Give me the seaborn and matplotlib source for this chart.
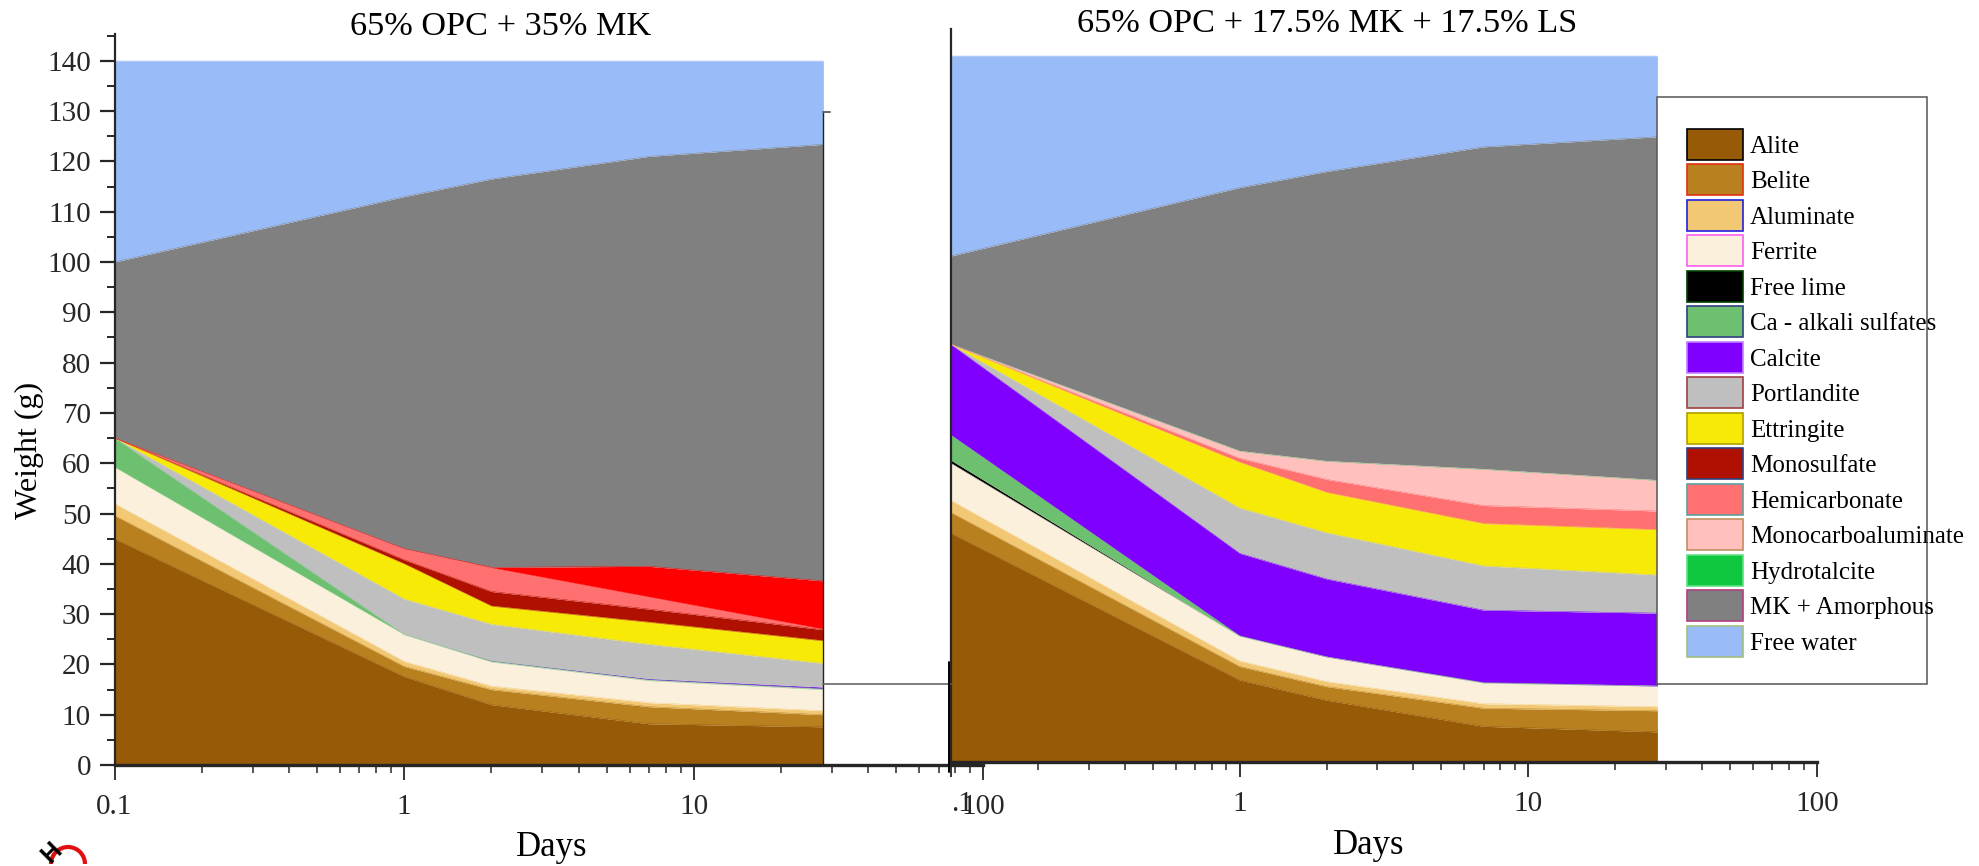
import numpy as np
import matplotlib
matplotlib.use("Agg")
import matplotlib.pyplot as plt
from matplotlib.lines import Line2D
from matplotlib.patches import Patch, Rectangle, Arc
from matplotlib.ticker import FixedLocator, NullFormatter
import seaborn as sns

W, H = 1979, 866

days = [0.1, 1, 2, 7, 28]

# top edge of every band (cumulative weight, g)
left_alite = [45, 17.6, 12, 8.2, 7.6]
left_belite = [49.6, 19.6, 15, 11.6, 10]
left_aluminate = [52, 20.6, 15.7, 12.4, 10.8]
left_ferrite = [59.2, 25.9, 20.5, 16.8, 15]
left_freelime = [59.2, 25.9, 20.5, 16.8, 15]
left_sulfates = [65, 25.95, 20.7, 17, 15.2]
left_calcite = [65, 25.95, 20.8, 17.2, 15.5]
left_portlandite = [65, 33, 28, 24, 20.2]
left_ettringite = [65, 40, 31.6, 28.4, 24.7]
left_monosulfate = [65, 40.8, 34.5, 31, 26.9]
left_hemicarb = [65, 43, 39.2, 33.4, 27]
left_monocarbo = [65, 43, 39.3, 39.5, 36.6]
left_hydrotalcite = [65, 43, 39.3, 39.5, 36.6]
left_mk = [100, 113, 116.5, 121, 123.4]
left_water = [140, 140, 140, 140, 140]

right_alite = [45.5, 16.3, 12.3, 7.1, 6]
right_belite = [49.6, 19.0, 15, 10.7, 10.2]
right_aluminate = [52, 20.1, 16, 11.6, 11]
right_ferrite = [59.4, 25, 20.9, 15.7, 15.1]
right_freelime = [60, 25, 20.9, 15.7, 15.1]
right_sulfates = [65, 25.1, 20.9, 15.8, 15.1]
right_calcite = [83, 41.5, 36.4, 30.2, 29.6]
right_portlandite = [83, 50.5, 45.6, 39, 37.2]
right_ettringite = [83, 59.6, 53.6, 47.4, 46.2]
right_monosulfate = [83, 59.6, 53.6, 47.4, 46.2]
right_hemicarb = [83, 60.4, 56.2, 51, 49.9]
right_monocarbo = [83, 61.8, 59.8, 58.2, 56]
right_hydrotalcite = [83.1, 61.9, 59.9, 58.3, 56.1]
right_mk = [100.6, 114.2, 117.4, 122.3, 124.3]
right_water = [140.4, 140.4, 140.4, 140.4, 140.4]

names = ["Alite", "Belite", "Aluminate", "Ferrite", "Free lime", "Ca - alkali sulfates",
         "Calcite", "Portlandite", "Ettringite", "Monosulfate", "Hemicarbonate",
         "Monocarboaluminate", "Hydrotalcite", "MK + Amorphous", "Free water"]
colors = ["#975A06", "#B8801F", "#F2C874", "#FBF0DC", "#000000", "#6CC070",
          "#8000FF", "#BFBFBF", "#F8EA07", "#B01000", "#FF7070",
          "#FFC0BE", "#10C840", "#808080", "#99BBF7"]
edges = ["#000000", "#E03010", "#2020E0", "#FF60F0", "#004000", "#304080",
         "#C080FF", "#A04040", "#B0A000", "#304080", "#60A0A0",
         "#C09060", "#60E080", "#B04080", "#A0C080"]
# the left panel shows its monocarboaluminate band in pure red
left_colors = colors[:11] + ["#FF0000"] + colors[12:]

left_tops = [left_alite, left_belite, left_aluminate, left_ferrite, left_freelime,
             left_sulfates, left_calcite, left_portlandite, left_ettringite,
             left_monosulfate, left_hemicarb, left_monocarbo, left_hydrotalcite,
             left_mk, left_water]
right_tops = [right_alite, right_belite, right_aluminate, right_ferrite, right_freelime,
              right_sulfates, right_calcite, right_portlandite, right_ettringite,
              right_monosulfate, right_hemicarb, right_monocarbo, right_hydrotalcite,
              right_mk, right_water]

sns.set_theme(style="ticks")
plt.rcParams["font.family"] = ["Liberation Serif", "DejaVu Serif"]
plt.rcParams["text.color"] = "black"


def px_axes(fig, x0, x1, ytop, ybot):
    return fig.add_axes([x0 / W, 1 - ybot / H, (x1 - x0) / W, (ybot - ytop) / H])


def draw_bands(ax, tops, cols):
    lower = np.zeros(len(days))
    for top, col in zip(tops, cols):
        top = np.array(top, dtype=float)
        if np.any(top > lower):
            ax.fill_between(days, lower, top, color=col, lw=0, zorder=2)
            # hairline over the seam, but not on bands that are only slivers
            if (top - lower).max() > 1:
                sns.lineplot(x=days, y=top, color=col, lw=0.3, ax=ax, zorder=2.1,
                             errorbar=None, sort=False)
        lower = top


def style_axes(ax, xlabels):
    ax.set_xscale("log")
    ax.set_xlim(0.1, 100)
    ax.patch.set_alpha(0)
    ax.spines["top"].set_visible(False)
    ax.spines["right"].set_visible(False)
    ax.spines["left"].set_linewidth(1.6)
    ax.spines["bottom"].set_linewidth(2.4)
    ax.spines["left"].set_zorder(5)
    ax.spines["bottom"].set_zorder(5)
    ax.xaxis.set_major_locator(FixedLocator([0.1, 1, 10, 100]))
    minors = [m * d for d in (0.1, 1, 10) for m in range(2, 10)]
    ax.xaxis.set_minor_locator(FixedLocator(minors))
    ax.xaxis.set_minor_formatter(NullFormatter())
    ax.set_xticklabels(xlabels)
    ax.tick_params(axis="x", which="major", length=11, width=1.3, labelsize=21, pad=10, direction="out")
    ax.tick_params(axis="x", which="minor", length=6, width=1.1, direction="out")
    ax.set_xlabel("")
    ax.set_ylabel("")


fig = plt.figure(figsize=(W / 100, H / 100), dpi=100, facecolor="white")

# left panel
ax1 = px_axes(fig, 114.5, 983.5, 34, 765)
ax1.set_ylim(0, 731 / 5.03)
draw_bands(ax1, left_tops, left_colors)
style_axes(ax1, ["0.1", "1", "10", "100"])
ax1.set_yticks(np.arange(0, 141, 10))
ax1.set_yticks(np.arange(5, 146, 10), minor=True)
ax1.tick_params(axis="y", which="major", length=11, width=1.6, labelsize=21, pad=6, direction="out")
ax1.tick_params(axis="y", which="minor", length=6, width=1.4, direction="out")

# right panel
ax2 = px_axes(fig, 951, 1817, 29, 762)
ax2.set_ylim(0, 733 / 5.03)
draw_bands(ax2, right_tops, colors)
style_axes(ax2, [".1", "1", "10", "100"])
ax2.get_xticklabels()[0].set_ha("left")
ax2.set_yticks([])

# box edges left over from the two pasted plots
def px_line(xs, ys, col, lw):
    fig.add_artist(Line2D([x / W for x in xs], [1 - y / H for y in ys], color=col, lw=lw, zorder=4))

px_line([823, 823], [112, 764], "#222222", 1.0)
px_line([823, 830], [112, 112], "#666666", 1.4)
px_line([823, 951], [684, 684], "#666666", 1.2)
px_line([949, 949], [662, 772], "#000000", 1.4)

fig.text(501 / W, 1 - 27 / H, "65% OPC + 35% MK", fontsize=24.7, ha="center", va="center")
fig.text(1327 / W, 1 - 24 / H, "65% OPC + 17.5% MK + 17.5% LS", fontsize=24.7, ha="center", va="center")
fig.text(29 / W, 1 - 450 / H, "Weight (g)", fontsize=23, rotation=90, ha="center", va="center")
fig.text(552 / W, 1 - 848 / H, "Days", fontsize=25, ha="center", va="center")
fig.text(1369 / W, 1 - 845 / H, "Days", fontsize=25, ha="center", va="center")

# legend box, the longest label runs past its right edge
fig.add_artist(Rectangle((1657 / W, 1 - 684 / H), 270 / W, 587 / H, transform=fig.transFigure,
                         facecolor="white", edgecolor="#555555", lw=1.1, zorder=6))
handles = [Patch(facecolor=c, edgecolor=e, lw=1.2) for c, e in zip(colors, edges)]
leg = fig.legend(handles, names, loc="upper left", bbox_to_anchor=(1687 / W, 1 - 129 / H),
                 frameon=False, fontsize=18, handlelength=2.24, handleheight=1.53,
                 labelspacing=0.18, handletextpad=0.28, borderpad=0, borderaxespad=0)
leg.set_zorder(7)

# cut-off logo in the lower left corner
logo = fig.add_axes([30 / W, 0, 70 / W, 34 / H])
logo.set_xlim(30, 100)
logo.set_ylim(34, 0)
logo.axis("off")
logo.add_patch(Arc((68, 32), 34, 34, theta1=180, theta2=360, color="#E01010", lw=3))
logo.text(52, 21, "H", fontsize=18, fontweight="bold", rotation=45, ha="center", va="center",
          family=["Liberation Sans", "DejaVu Sans"], color="black")

fig.savefig("out.png", dpi=100)
